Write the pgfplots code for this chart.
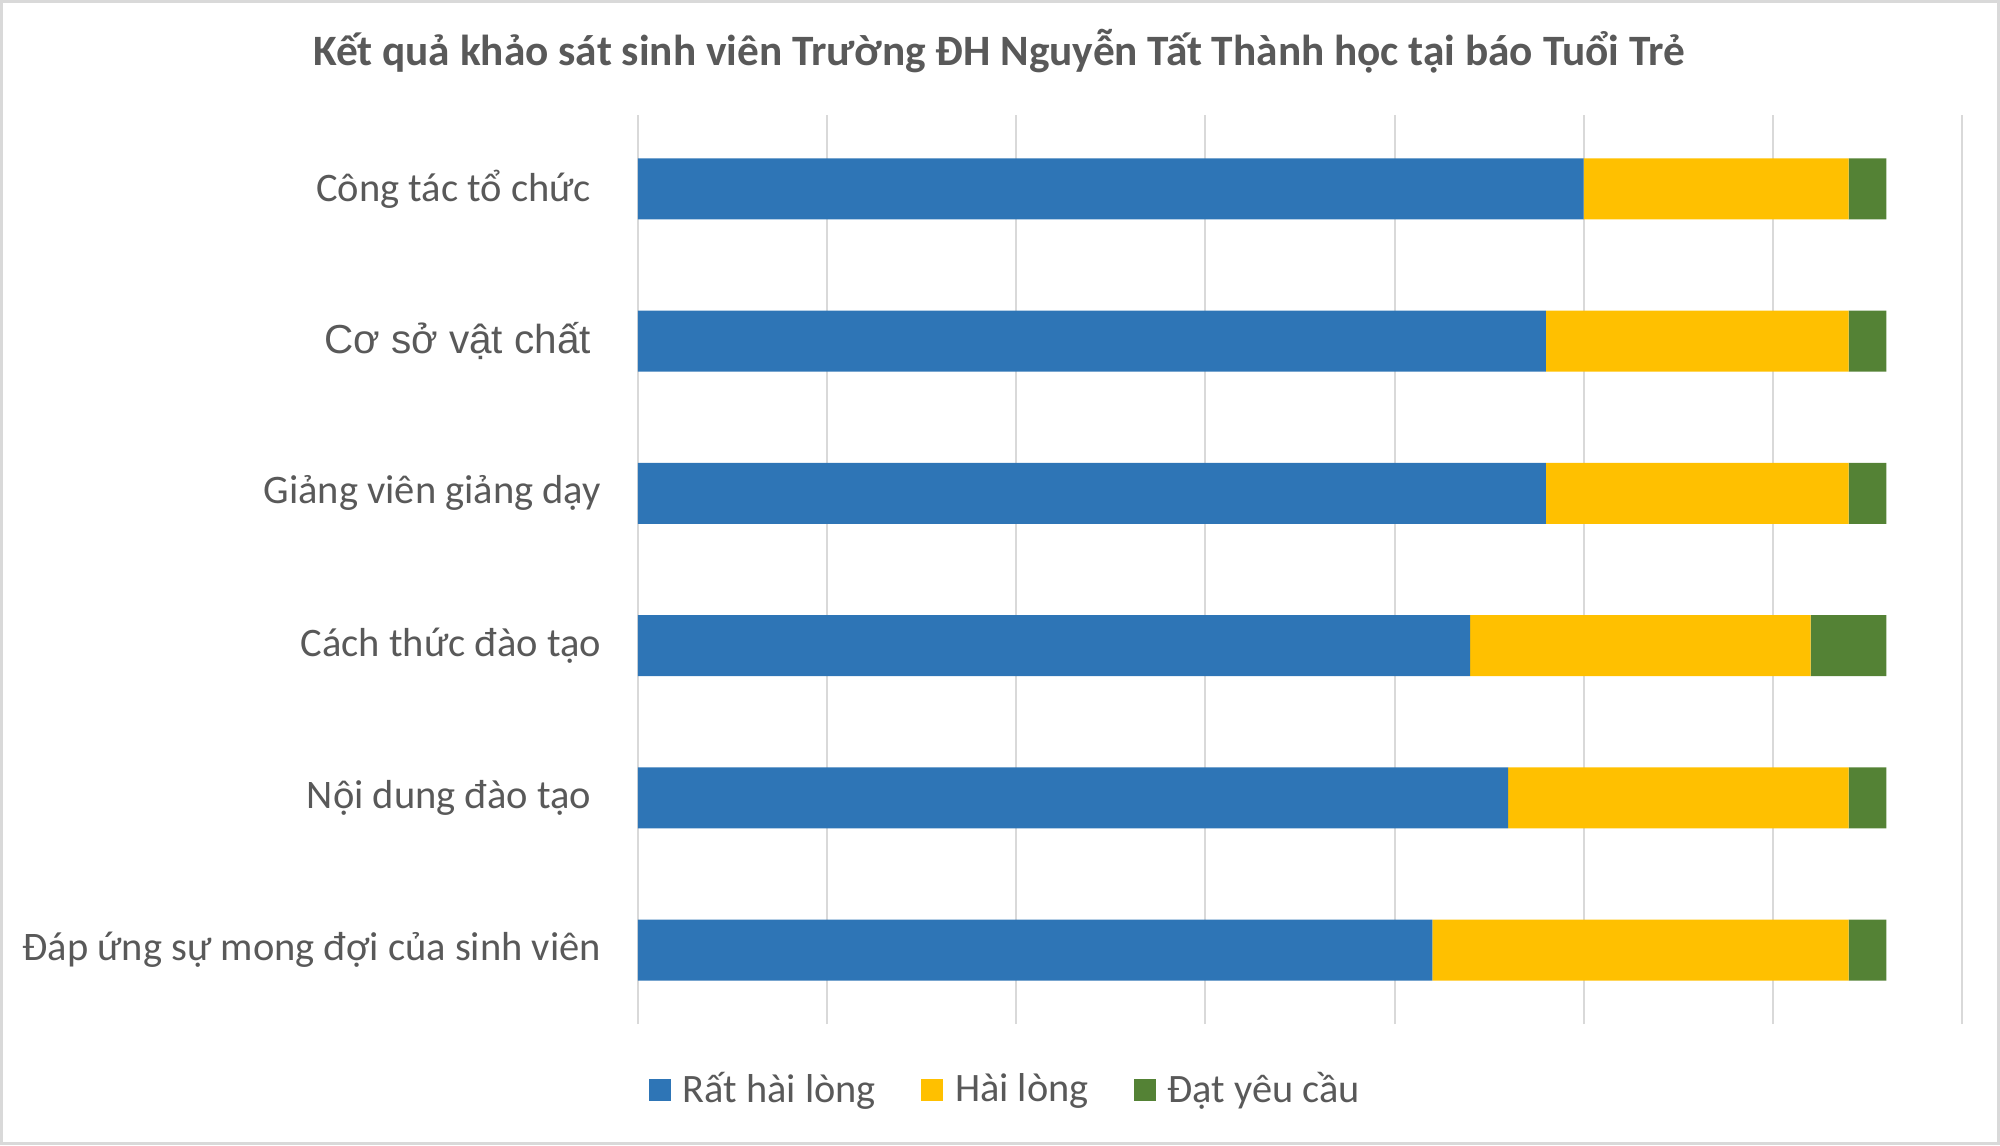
\documentclass[border=0pt]{standalone}
\usepackage{fontspec}
\setmainfont{Carlito}
\newfontfamily\arialf{Liberation Sans}
\usepackage{pgfplots}
\pgfplotsset{compat=1.18}
\definecolor{cblue}{HTML}{2E75B6}
\definecolor{cyellow}{HTML}{FFC000}
\definecolor{cgreen}{HTML}{548235}
\definecolor{ctext}{HTML}{595959}
\definecolor{cgrid}{HTML}{D9D9D9}
\begin{document}
\begin{tikzpicture}
\path[use as bounding box] (0,0) rectangle (600pt,343.5pt);
\draw[cgrid, line width=0.9pt] (0.45pt,0.45pt) rectangle (599.55pt,343.05pt);
\node[text=ctext, font=\fontsize{13pt}{15pt}\selectfont\bfseries, anchor=center] at (299.7pt,328.2pt) {Kết quả khảo sát sinh viên Trường ĐH Nguyễn Tất Thành học tại báo Tuổi Trẻ};
\begin{axis}[
  at={(191.4pt,36.3pt)}, anchor=south west,
  scale only axis, width=397.2pt, height=272.7pt,
  xbar stacked, bar width=18.3pt,
  xmin=0, xmax=105, ymin=-0.486, ymax=5.486,
  xtick={0,15,...,105}, xticklabel=\empty,
  xmajorgrids, grid style={cgrid, line width=0.6pt},
  ytick={0,...,5},
  yticklabels={Đáp ứng sự mong đợi của sinh viên, {Nội dung đào tạo\hspace*{3pt}}, Cách thức đào tạo, Giảng viên giảng dạy, {\arialf Cơ sở vật chất\hspace*{3pt}}, {Công tác tổ chức\hspace*{3pt}}},
  axis line style={draw=none}, major tick length=0pt,
  yticklabel style={font=\fontsize{12.15pt}{14pt}\selectfont, text=ctext, inner sep=0pt, anchor=east, xshift=-10.9pt},
  legend columns=3,
  legend image code/.code={\fill[#1] (0pt,-3.3pt) rectangle (6.6pt,3.3pt);},
  legend style={at={(axis description cs:0.2767,-0.0726)}, anchor=center, draw=none, fill=none,
    font=\fontsize{12.1pt}{14pt}\selectfont, text=ctext,
    nodes={inner sep=0pt},
    /tikz/every odd column/.append style={column sep=3.6pt},
    /tikz/every even column/.append style={column sep=13.5pt}},
]
\addplot[fill=cblue, draw=none] coordinates {(63,0) (69,1) (66,2) (72,3) (72,4) (75,5)};
\addplot[fill=cyellow, draw=none] coordinates {(33,0) (27,1) (27,2) (24,3) (24,4) (21,5)};
\addplot[fill=cgreen, draw=none] coordinates {(3,0) (3,1) (6,2) (3,3) (3,4) (3,5)};
\legend{Rất hài lòng, Hài lòng, Đạt yêu cầu}
\end{axis}
\end{tikzpicture}
\end{document}
